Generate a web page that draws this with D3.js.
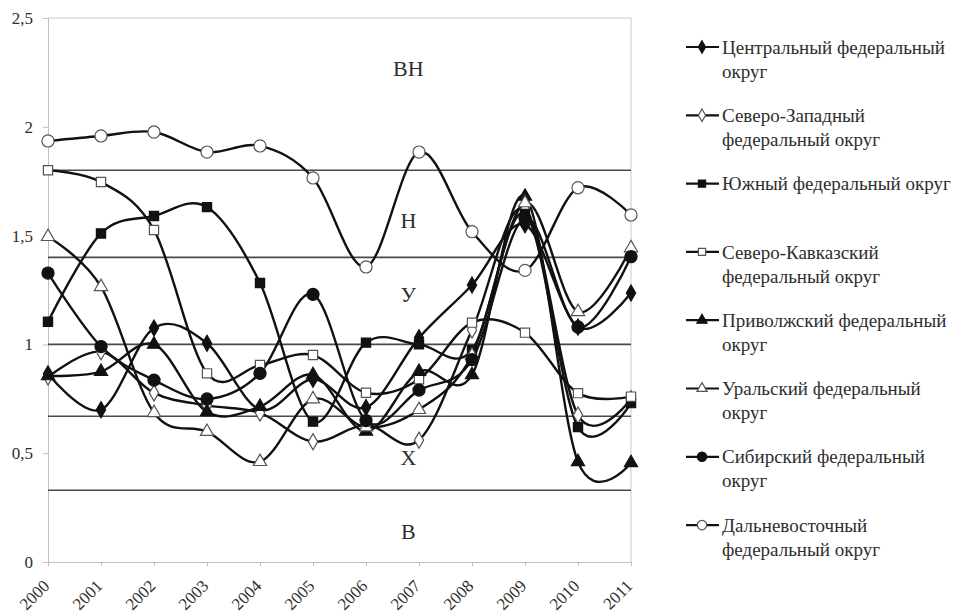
<!DOCTYPE html>
<html>
<head>
<meta charset="utf-8">
<script src="https://cdn.jsdelivr.net/npm/d3@7"></script>
</head>
<body style="margin:0">
<div id="chart"></div>
<script>
// Years on the x axis
const years = [2000, 2001, 2002, 2003, 2004, 2005, 2006, 2007, 2008, 2009, 2010, 2011];

// Series values
const central   = [0.865, 0.70, 1.075, 1.005, 0.70, 0.84, 0.71, 1.03, 1.273, 1.55, 1.08, 1.236];
const northWest = [0.85, 0.966, 0.777, 0.72, 0.685, 0.553, 0.63, 0.56, 1.066, 1.62, 0.675, 0.75];
const south     = [1.104, 1.51, 1.59, 1.631, 1.282, 0.645, 1.008, 1.0, 0.974, 1.60, 0.62, 0.73];
const northCauc = [1.80, 1.746, 1.526, 0.867, 0.905, 0.951, 0.778, 0.84, 1.10, 1.054, 0.776, 0.76];
const volga     = [0.855, 0.875, 1.0, 0.69, 0.714, 0.86, 0.60, 0.875, 0.86, 1.68, 0.46, 0.456];
const ural      = [1.495, 1.265, 0.686, 0.599, 0.461, 0.749, 0.62, 0.70, 0.95, 1.65, 1.15, 1.443];
const siberia   = [1.328, 0.99, 0.836, 0.749, 0.867, 1.23, 0.65, 0.79, 0.93, 1.58, 1.08, 1.403];
const farEast   = [1.935, 1.958, 1.976, 1.884, 1.912, 1.765, 1.356, 1.884, 1.518, 1.34, 1.72, 1.595];

// Legend names (each line of the wrapped label)
const seriesNames = [
  ["Центральный федеральный", "округ"],
  ["Северо-Западный", "федеральный округ"],
  ["Южный федеральный округ"],
  ["Северо-Кавказский", "федеральный округ"],
  ["Приволжский федеральный", "округ"],
  ["Уральский федеральный", "округ"],
  ["Сибирский федеральный", "округ"],
  ["Дальневосточный", "федеральный округ"]
];
const seriesValues = [central, northWest, south, northCauc, volga, ural, siberia, farEast];

// Threshold lines and zone labels
const thresholds = [1.8, 1.4, 1, 0.67, 0.33];
const zoneLabels = ["ВН", "Н", "У", "Х", "В"];
const zoneValues = [2.27, 1.57, 1.23, 0.48, 0.14];

// y ticks
const yTicks = [0, 0.5, 1, 1.5, 2, 2.5];

const fontStack = "'Times New Roman', 'Liberation Serif', Tinos, serif";
const textColor = "#2e2e2e";

const width = 964;
const height = 616;

const svg = d3.select("#chart").append("svg")
              .attr("width", width)
              .attr("height", height);

const x = d3.scaleLinear().domain([2000, 2011]).range([48, 631]);
const y = d3.scaleLinear().domain([0, 2.5]).range([562, 18]);

// marker style for each series
const symbols = [d3.symbolDiamond, d3.symbolDiamond, d3.symbolSquare, d3.symbolSquare,
                 d3.symbolTriangle, d3.symbolTriangle, d3.symbolCircle, d3.symbolCircle];
const sizes = [75, 75, 85, 85, 75, 75, 115, 115];
const filled = [true, false, true, false, true, false, true, false];

// plot frame (top and right borders)
svg.append("line")
   .attr("x1", x(2000)).attr("x2", x(2011))
   .attr("y1", y(2.5)).attr("y2", y(2.5))
   .style("stroke", "#c9c9c9");
svg.append("line")
   .attr("x1", x(2011)).attr("x2", x(2011))
   .attr("y1", y(2.5)).attr("y2", y(0))
   .style("stroke", "#c9c9c9");

// axes
const yAxis = svg.append("g")
   .attr("transform", `translate(${x(2000)},0)`)
   .call(d3.axisLeft(y).tickValues(yTicks).tickSize(5).tickPadding(10)
           .tickFormat(d => String(d).replace(".", ",")));
const xAxis = svg.append("g")
   .attr("transform", `translate(0,${y(0)})`)
   .call(d3.axisBottom(x).tickValues(years).tickSize(4).tickFormat(d => d));

[yAxis, xAxis].forEach(a => {
    a.attr("font-family", fontStack).attr("font-size", 17);
    a.select(".domain").style("stroke", "#c0c0c0");
    a.selectAll(".tick line").style("stroke", "#c0c0c0");
    a.selectAll("text")
     .style("font-family", fontStack)
     .style("font-size", "17px")
     .style("fill", textColor);
});
xAxis.selectAll("text")
     .attr("text-anchor", "end")
     .attr("x", 0).attr("y", 0)
     .attr("dx", 0).attr("dy", 0)
     .attr("transform", "translate(2,25) rotate(-45)");

// threshold lines
svg.selectAll(".thr")
   .data(thresholds)
   .enter()
   .append("line")
   .attr("class", "thr")
   .attr("x1", x(2000)).attr("x2", x(2011))
   .attr("y1", d => y(d)).attr("y2", d => y(d))
   .style("stroke", "#4a4a4a")
   .style("stroke-width", 1.6);

// zone labels
svg.selectAll(".zone")
   .data(zoneLabels)
   .enter()
   .append("text")
   .attr("class", "zone")
   .attr("x", x(2006.8))
   .attr("y", (d, i) => y(zoneValues[i]))
   .attr("dy", "0.35em")
   .attr("text-anchor", "middle")
   .style("font-family", fontStack)
   .style("font-size", "22px")
   .style("fill", textColor)
   .text(d => d);

// smoothed lines
const line = d3.line()
               .x((d, i) => x(years[i]))
               .y(d => y(d))
               .curve(d3.curveCardinal.tension(0));

svg.selectAll(".series")
   .data(seriesValues)
   .enter()
   .append("path")
   .attr("class", "series")
   .attr("d", line)
   .style("fill", "none")
   .style("stroke", "#111")
   .style("stroke-width", 2.4);

// markers
seriesValues.forEach((vals, s) => {
    svg.selectAll(".m" + s)
       .data(vals)
       .enter()
       .append("path")
       .attr("class", "m" + s)
       .attr("d", d3.symbol().type(symbols[s]).size(sizes[s]))
       .attr("transform", (d, i) => `translate(${x(years[i])},${y(d)})`)
       .style("fill", filled[s] ? "#111" : "#fff")
       .style("stroke", filled[s] ? "#111" : "#555")
       .style("stroke-width", 1.2);
});

// legend
const legend = svg.append("g");
seriesNames.forEach((names, s) => {
    const ly = 47 + s * 68.3;
    legend.append("line")
          .attr("x1", 686).attr("x2", 719)
          .attr("y1", ly).attr("y2", ly)
          .style("stroke", "#111")
          .style("stroke-width", 2.2);
    legend.append("path")
          .attr("d", d3.symbol().type(symbols[s]).size(sizes[s] * 0.6))
          .attr("transform", `translate(702,${ly})`)
          .style("fill", filled[s] ? "#111" : "#fff")
          .style("stroke", filled[s] ? "#111" : "#555")
          .style("stroke-width", 1.2);
    names.forEach((t, k) => {
        legend.append("text")
              .attr("x", 722)
              .attr("y", ly + k * 24)
              .attr("dy", "0.35em")
              .style("font-family", fontStack)
              .style("font-size", "19px")
              .style("fill", textColor)
              .text(t);
    });
});
</script>
</body>
</html>
